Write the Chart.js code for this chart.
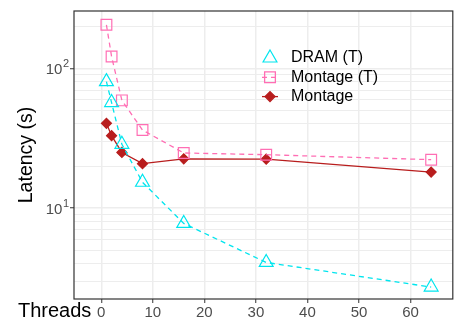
<!DOCTYPE html>
<html><head><meta charset="utf-8">
<script src="https://cdn.jsdelivr.net/npm/chart.js@4.4.1/dist/chart.umd.min.js"></script>
<style>html,body{margin:0;padding:0;background:#fff}#wrap{width:462px;height:324px;position:relative}</style>
</head><body><div id="wrap"><canvas id="c" width="462" height="324"></canvas></div>
<script>
const threads = [1, 2, 4, 8, 16, 32, 64];
const dramT = [80.4, 56.9, 28.6, 15.3, 7.76, 4.08, 2.72];
const montageT = [205, 121.6, 59, 36.2, 24.8, 24.1, 22.2];
const montage = [40.4, 33.0, 25.0, 20.8, 22.5, 22.4, 18.1];
const seriesNames = ['DRAM (T)', 'Montage (T)', 'Montage'];
const xTicks = [0, 10, 20, 30, 40, 50, 60];
const yMajor = [10, 100];
const yMinor = [3, 4, 5, 6, 7, 8, 9, 20, 30, 40, 50, 60, 70, 80, 90, 200];
const yLabelBase = '10';
const yLabelExp = {10: '1', 100: '2'};

const FONT = "'Liberation Sans', Arial, sans-serif";
const CYAN = '#00E5EE', PINK = '#FF6EB4', RED = '#B81D1D';

function pts(vals) { return threads.map((t, i) => ({x: t, y: vals[i]})); }

const styles = [
  {color: CYAN, fill: 'rgba(0,0,0,0)', style: 'triangle', r: 8, dash: [5, 4], keyLine: false},
  {color: PINK, fill: 'rgba(0,0,0,0)', style: 'rect', r: 7.6, dash: [5, 4], keyLine: true},
  {color: RED, fill: RED, style: 'rectRot', r: 5, dash: [], keyLine: true}
];
const seriesData = [dramT, montageT, montage];

const decor = {
  id: 'decor',
  afterDraw(chart) {
    const ctx = chart.ctx, a = chart.chartArea;
    ctx.save();
    // panel border
    ctx.strokeStyle = '#333333';
    ctx.lineWidth = 1.2;
    ctx.strokeRect(a.left, a.top, a.right - a.left, a.bottom - a.top);
    // y tick labels with superscript exponents
    const ys = chart.scales.y;
    ctx.fillStyle = '#4D4D4D';
    ctx.textAlign = 'left';
    ctx.textBaseline = 'alphabetic';
    yMajor.forEach(v => {
      const py = ys.getPixelForValue(v);
      const exp = yLabelExp[v];
      ctx.font = '11px ' + FONT;
      const we = ctx.measureText(exp).width;
      ctx.font = '15px ' + FONT;
      const wb = ctx.measureText(yLabelBase).width;
      const right = 68.5;
      const x0 = right - we - wb;
      ctx.fillText(yLabelBase, x0, py + 6);
      ctx.font = '11px ' + FONT;
      ctx.fillText(exp, x0 + wb + 0.5, py - 1);
    });
    // legend
    const rows = [58, 77.3, 96.6];
    styles.forEach((s, i) => {
      const y = rows[i];
      if (s.keyLine) {
        ctx.beginPath();
        ctx.setLineDash(s.dash);
        ctx.strokeStyle = s.color;
        ctx.lineWidth = 1.3;
        ctx.moveTo(262, y); ctx.lineTo(278, y);
        ctx.stroke();
        ctx.setLineDash([]);
      }
      ctx.strokeStyle = s.color;
      ctx.fillStyle = s.fill;
      Chart.helpers.drawPoint(ctx, {pointStyle: s.style, radius: s.r, rotation: 0, borderWidth: 1.2}, 270, y);
      ctx.fillStyle = '#000';
      ctx.font = '16px ' + FONT;
      ctx.textBaseline = 'middle';
      ctx.textAlign = 'left';
      ctx.fillText(seriesNames[i], 291, y);
    });
    // x axis title
    ctx.fillStyle = '#000';
    ctx.font = '20px ' + FONT;
    ctx.textBaseline = 'alphabetic';
    ctx.textAlign = 'left';
    ctx.fillText('Threads', 18, 316.5);
    ctx.restore();
  }
};

new Chart(document.getElementById('c'), {
  type: 'line',
  data: {
    datasets: styles.map((s, i) => ({
      label: seriesNames[i],
      data: pts(seriesData[i]),
      borderColor: s.color,
      backgroundColor: s.fill,
      borderWidth: 1.3,
      borderDash: s.dash,
      pointStyle: s.style,
      pointRadius: s.r,
      pointBorderColor: s.color,
      pointBackgroundColor: s.fill,
      pointBorderWidth: 1.2,
      tension: 0,
      fill: false
    }))
  },
  options: {
    responsive: false,
    animation: false,
    devicePixelRatio: 1,
    layout: {padding: {top: 8, right: 3, left: 0, bottom: 0}},
    plugins: {legend: {display: false}, tooltip: {enabled: false}},
    scales: {
      x: {
        type: 'linear',
        min: -5.29, max: 68.2,
        afterBuildTicks(scale) { scale.ticks = xTicks.map(v => ({value: v})); },
        afterFit(scale) { scale.height = 25; },
        border: {display: false},
        grid: {color: '#EDEDED', lineWidth: 1.5, drawTicks: true, tickLength: 4, tickColor: '#333333', tickWidth: 1},
        ticks: {color: '#4D4D4D', font: {family: FONT, size: 15}, padding: 1, maxRotation: 0, autoSkip: false}
      },
      y: {
        type: 'logarithmic',
        min: 2.234, max: 257.4,
        afterBuildTicks(scale) {
          scale.ticks = yMinor.concat(yMajor).sort((a, b) => a - b).map(v => ({value: v, major: false}));
        },
        afterFit(scale) { scale.width = 74; },
        border: {display: false},
        grid: {
          color: '#EDEDED',
          lineWidth: c => (c.tick && yMajor.includes(c.tick.value)) ? 1.5 : 1,
          drawTicks: true, tickLength: 4,
          tickColor: c => (c.tick && yMajor.includes(c.tick.value)) ? '#333333' : 'rgba(0,0,0,0)',
          tickWidth: 1
        },
        ticks: {
          color: '#4D4D4D', font: {family: FONT, size: 15}, padding: 2, autoSkip: false,
          callback: () => ''
        },
        title: {display: true, text: 'Latency (s)', color: '#000', font: {family: FONT, size: 19.5}, padding: {top: 15, bottom: 0}}
      }
    }
  },
  plugins: [decor]
});
</script></body></html>
